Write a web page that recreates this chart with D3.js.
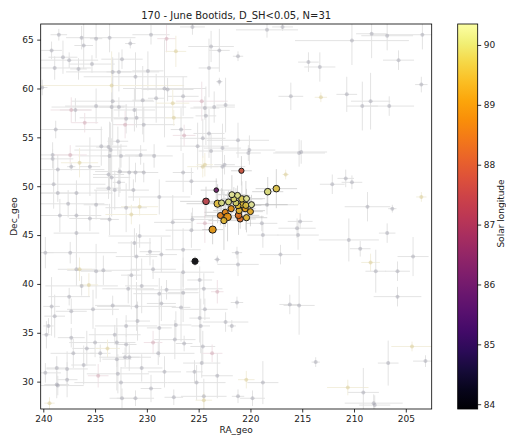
<!DOCTYPE html>
<html>
<head>
<meta charset="utf-8">
<script src="https://cdn.jsdelivr.net/npm/d3@7"></script>
<style>
    body { margin: 0; background: #fff; }
    text { font-family: "DejaVu Sans", sans-serif; fill: #222; }
</style>
</head>
<body>
<svg></svg>
<script>
// tick labels
const xTicks = [240, 235, 230, 225, 220, 215, 210, 205];
const yTicks = [30, 35, 40, 45, 50, 55, 60, 65];
const cbTicks = [84, 85, 86, 87, 88, 89, 90];

// June Bootids members (31)
const memRA = [220.87, 223.3, 224.29, 223.17, 222.79, 221.79, 221.25, 220.83, 220.38, 222.12,
    221.4, 220.77, 220.44, 219.9, 218.33, 217.5, 222.43, 221.86, 221.09, 220.51,
    222.21, 222.56, 221.15, 220.99, 220.38, 223.65, 225.35, 221.6, 222.9, 220.0, 221.2];
const memDec = [51.58, 49.6, 48.45, 48.21, 48.29, 49.13, 49.06, 48.7, 48.73, 48.39,
    48.29, 48.11, 48.04, 48.11, 49.44, 49.75, 47.33, 47.7, 47.5, 47.7,
    46.86, 46.48, 47.02, 46.65, 46.78, 45.56, 42.32, 48.7, 47.0, 47.4, 48.0];
const memSol = [87.8, 86.0, 87.4, 89.6, 90.2, 90.3, 90.2, 89.8, 90.3, 90.1,
    90.0, 89.5, 89.7, 90.3, 90.1, 89.7, 88.7, 88.9, 89.4, 89.1,
    88.9, 89.5, 88.4, 88.3, 89.5, 89.0, 83.9, 90.0, 88.6, 89.3, 89.6];
const memErrRA = [1.0, 1.5, 2.5, 3.0, 2.0, 1.5, 1.2, 2.0, 1.8, 2.5,
    1.0, 2.5, 1.5, 3.5, 1.5, 2.0, 2.0, 1.5, 2.5, 1.0,
    3.5, 1.5, 2.0, 1.5, 2.0, 1.0, 0.5, 1.2, 1.5, 1.2, 1.5];
const memErrDec = [1.5, 1.2, 1.5, 2.0, 1.5, 2.0, 1.0, 1.8, 1.0, 1.2,
    1.5, 1.0, 2.5, 1.0, 1.5, 2.0, 1.5, 1.2, 1.0, 1.2,
    2.5, 3.0, 2.0, 1.0, 1.5, 1.5, 0.5, 1.2, 1.0, 1.5, 1.0];
const memSize = [2.6, 2.3, 3.3, 3.6, 3.0, 3.0, 3.0, 3.2, 3.0, 3.0,
    3.0, 3.1, 3.1, 3.0, 3.3, 3.3, 3.0, 3.1, 3.1, 3.1,
    3.8, 3.1, 3.3, 3.1, 3.1, 3.6, 3.1, 3.0, 3.0, 3.0, 3.0];

// all other meteors (background)
const bgRA = [238.5, 236.3, 234.9, 233.6, 231.6, 229.6, 228.1, 225.6, 223.8, 223.0,
    239.2, 238.1, 237.5, 236.1, 227.2, 238.9, 236.6, 235.3, 233.3, 232.7,
    232.4, 231.1, 229.9, 224.0, 223.0, 240.1, 233.4, 228.3, 228.0, 226.5,
    233.3, 233.4, 232.7, 234.9, 236.9, 230.4, 229.1, 227.5, 231.2, 231.0,
    232.0, 230.3, 227.4, 224.7, 224.4, 224.3, 223.5, 222.4, 237.3, 236.0,
    232.1, 238.8, 226.7, 226.4, 224.6, 224.0, 234.4, 233.7, 233.5, 232.8,
    232.5, 233.6, 230.6, 229.3, 225.1, 223.8, 222.7, 239.1, 237.4, 236.5,
    235.5, 237.3, 238.6, 239.1, 233.7, 233.4, 232.7, 232.6, 231.7, 231.1,
    230.3, 226.5, 225.7, 224.6, 222.7, 239.0, 238.6, 236.8, 233.7, 233.1,
    231.3, 228.8, 237.6, 234.9, 232.0, 230.7, 238.4, 236.8, 235.5, 233.6,
    231.5, 227.5, 236.8, 230.7, 225.7, 239.8, 237.4, 231.2, 229.7, 231.0,
    228.6, 226.5, 223.2, 236.8, 236.5, 234.9, 234.2, 229.4, 231.5, 226.5,
    224.9, 236.3, 235.6, 231.8, 230.5, 228.1, 228.8, 226.5, 224.5, 223.2,
    237.5, 239.2, 237.3, 235.2, 233.3, 231.0, 228.6, 226.7, 224.4, 238.9,
    239.5, 239.7, 232.0, 230.9, 233.1, 228.8, 227.2, 224.9, 224.8, 222.4,
    237.3, 235.0, 232.9, 232.0, 229.4, 227.3, 226.4, 224.6, 235.8, 234.5,
    237.1, 233.8, 232.9, 232.1, 231.7, 228.9, 223.7, 224.7, 238.7, 237.7,
    236.1, 234.7, 232.8, 230.5, 228.3, 225.4, 223.2, 239.8, 238.7, 225.2,
    239.4, 238.6, 237.7, 232.5, 232.4, 231.1, 229.6, 227.4, 224.5, 224.5,
    221.2, 219.8, 218.8, 220.4, 210.6, 209.1, 208.1, 208.0,
    218.4, 216.9, 210.2, 208.3, 206.8, 203.4, 221.2, 214.4, 213.3, 205.7,
    203.5, 216.1, 213.2, 210.7, 208.4, 209.2, 206.6, 221.2, 220.1, 215.1,
    216.6, 212.1, 210.8, 210.2, 203.5, 218.4, 208.7, 206.3, 215.2, 218.8,
    215.4, 210.5, 206.8, 209.4, 217.1, 221.3, 221.2, 208.4, 207.9, 205.8,
    204.3, 205.8, 221.3, 216.2, 215.3, 221.8, 213.7, 204.4, 206.7, 203.1,
    224.4, 222.5, 220.2, 215.3, 224.4, 218.9, 215.5, 225.6];
const bgDec = [65.5, 65.2, 65.1, 65.2, 64.6, 65.5, 65.1, 66.3, 64.3, 63.9,
    63.9, 63.2, 62.9, 64.4, 63.8, 62.1, 62.0, 62.5, 61.7, 61.7,
    63.0, 61.2, 61.8, 62.1, 60.7, 60.1, 60.3, 60.0, 59.9, 59.2,
    58.7, 58.1, 58.1, 58.2, 57.8, 58.8, 59.0, 58.5, 57.8, 57.0,
    56.9, 56.3, 57.0, 58.7, 58.0, 57.2, 58.1, 58.3, 57.8, 56.5,
    56.3, 55.8, 55.8, 55.2, 54.9, 55.4, 54.1, 54.0, 53.7, 54.6,
    53.1, 53.1, 53.2, 53.1, 54.1, 53.6, 53.9, 53.2, 53.2, 52.4,
    52.0, 52.0, 51.7, 52.8, 51.2, 50.9, 50.4, 51.5, 51.4, 51.4,
    51.4, 51.4, 50.5, 52.0, 52.0, 50.2, 49.3, 49.3, 49.8, 49.6,
    49.6, 48.9, 48.2, 48.1, 47.8, 47.9, 47.0, 47.0, 46.7, 46.6,
    47.1, 46.3, 45.2, 44.9, 45.5, 43.2, 43.2, 44.2, 43.3, 42.8,
    43.0, 43.5, 42.5, 41.5, 41.5, 41.3, 41.4, 41.5, 40.9, 41.2,
    40.4, 39.8, 39.9, 39.5, 39.8, 39.4, 39.0, 39.1, 39.5, 39.2,
    38.7, 37.7, 37.2, 37.4, 37.8, 37.7, 38.0, 37.6, 37.4, 36.7,
    35.7, 34.8, 35.7, 36.2, 34.8, 35.5, 35.8, 36.5, 35.7, 36.1,
    34.5, 34.0, 34.0, 33.8, 34.0, 34.3, 33.9, 33.6, 33.4, 32.9,
    32.9, 33.4, 32.3, 32.5, 32.5, 32.9, 32.9, 31.9, 31.4, 31.3,
    31.7, 30.6, 30.8, 31.4, 31.0, 31.0, 30.6, 30.9, 29.7, 29.9,
    27.8, 29.6, 30.2, 29.9, 28.3, 28.3, 29.3, 28.4, 28.5, 28.1,
    28.5, 28.3, 29.9, 30.2, 29.4, 28.9, 27.8, 27.6,
    66.0, 66.3, 64.9, 65.6, 65.4, 65.5, 63.3, 62.7, 62.2, 62.9,
    60.4, 59.2, 59.1, 59.4, 58.7, 58.2, 58.2, 54.7, 53.7, 53.5,
    51.2, 50.2, 50.8, 50.4, 48.9, 48.1, 47.9, 47.7, 46.4, 45.0,
    45.0, 44.5, 45.2, 43.6, 43.0, 43.2, 42.0, 42.2, 41.3, 41.3,
    42.8, 38.7, 38.1, 37.9, 37.8, 35.7, 32.0, 33.6, 31.9, 32.1,
    52.2, 52.2, 53.4, 53.4, 46.2, 46.2, 45.7, 46.6];
const bgErrRA = [0.8, 1.5, 0.6, 2.5, 0.5, 1.8, 0.9, 1.2, 2.2, 1.0,
    1.0, 1.4, 2.8, 0.9, 1.0, 3.5, 0.8, 2.2, 4.5, 1.2,
    2.0, 5.0, 1.5, 1.0, 0.3, 0.5, 7.0, 4.0, 2.5, 1.5,
    4.0, 1.2, 6.5, 3.0, 1.5, 1.0, 0.8, 1.6, 2.0, 5.5,
    1.2, 3.0, 0.8, 2.5, 1.4, 1.0, 2.0, 0.9, 2.0, 1.3,
    0.9, 4.5, 1.0, 1.1, 2.2, 1.5, 2.5, 1.2, 3.5, 1.0,
    2.0, 3.0, 1.5, 1.8, 3.0, 1.2, 1.8, 2.0, 1.6, 1.8,
    1.0, 0.4, 4.5, 2.0, 1.5, 1.8, 0.6, 2.4, 1.2, 1.0,
    1.4, 1.0, 2.5, 1.5, 2.2, 5.0, 2.0, 3.5, 1.2, 2.0,
    1.5, 3.0, 3.5, 1.2, 2.0, 1.8, 4.0, 1.2, 2.0, 0.9,
    2.5, 1.8, 2.2, 3.0, 2.5, 0.8, 4.5, 1.6, 1.0, 2.0,
    1.5, 1.7, 0.3, 1.8, 1.2, 1.5, 3.5, 2.2, 1.0, 3.0,
    1.2, 3.5, 0.9, 2.5, 1.6, 3.0, 2.5, 1.5, 1.8, 0.6,
    2.0, 0.8, 1.5, 2.5, 1.7, 3.8, 1.4, 0.9, 2.2, 1.0,
    0.5, 0.4, 3.0, 1.2, 2.5, 1.2, 1.5, 1.0, 0.9, 2.2,
    1.3, 2.5, 1.8, 1.0, 0.9, 2.0, 0.8, 1.2, 1.4, 1.0,
    2.2, 1.2, 1.4, 2.5, 1.0, 3.5, 1.0, 1.8, 1.0, 2.0,
    1.2, 1.0, 3.0, 2.0, 1.6, 0.8, 1.5, 1.5, 1.2, 2.8,
    0.5, 2.5, 1.0, 4.5, 1.2, 1.8, 1.0, 0.9, 2.2, 0.8,
    0.6, 1.2, 1.5, 0.8, 2.0, 1.5, 2.8, 1.5,
    3.0, 1.0, 5.5, 1.5, 2.5, 5.0, 0.5, 1.0, 1.5, 1.5,
    0.6, 1.2, 0.6, 1.0, 1.9, 1.5, 2.4, 3.0, 2.5, 2.5,
    0.3, 1.2, 0.8, 1.0, 0.5, 3.0, 2.2, 0.4, 1.2, 1.5,
    2.0, 2.9, 0.8, 1.0, 2.0, 0.5, 2.0, 0.9, 1.0, 1.2,
    1.5, 2.3, 0.6, 1.0, 1.5, 0.4, 0.4, 2.0, 1.0, 1.2,
    0.8, 1.0, 1.2, 2.5, 0.8, 1.5, 1.8, 2.0];
const bgErrDec = [0.6, 1.2, 2.0, 1.5, 0.5, 1.0, 1.4, 0.8, 1.6, 2.2,
    0.9, 1.7, 0.8, 2.4, 1.6, 1.2, 1.1, 0.9, 1.3, 2.0,
    1.0, 2.5, 2.0, 3.0, 0.4, 0.8, 3.5, 5.0, 1.2, 2.0,
    4.5, 1.5, 1.0, 1.8, 1.2, 3.5, 2.5, 1.4, 2.2, 1.0,
    1.5, 1.8, 0.8, 2.0, 1.2, 3.0, 1.6, 2.8, 1.3, 1.0,
    1.4, 0.9, 2.2, 1.1, 2.0, 2.5, 2.0, 1.0, 2.8, 1.5,
    1.2, 3.5, 1.0, 1.2, 2.4, 1.8, 2.5, 1.3, 1.0, 1.5,
    3.0, 0.4, 1.5, 1.0, 2.0, 4.0, 1.5, 2.2, 1.8, 1.0,
    1.0, 2.0, 1.4, 1.1, 2.8, 2.5, 0.9, 1.3, 1.1, 2.0,
    1.1, 1.8, 1.4, 1.5, 2.5, 0.9, 1.7, 2.2, 1.3, 1.6,
    1.0, 2.8, 2.5, 1.2, 1.8, 1.6, 1.1, 1.5, 1.4, 2.4,
    1.8, 2.2, 0.4, 1.7, 1.2, 2.8, 1.5, 1.0, 3.5, 1.5,
    1.4, 1.0, 1.2, 1.5, 2.8, 1.0, 1.6, 3.0, 1.6, 1.2,
    0.9, 3.0, 1.3, 2.0, 1.0, 2.5, 1.8, 3.5, 1.1, 2.2,
    0.8, 1.4, 1.1, 2.0, 1.0, 3.0, 1.4, 2.5, 2.8, 1.0,
    1.0, 1.5, 2.5, 1.1, 1.2, 2.0, 0.8, 1.6, 1.8, 0.9,
    1.5, 0.9, 3.2, 1.0, 1.4, 1.2, 0.9, 1.5, 1.2, 1.8,
    2.0, 1.2, 2.0, 1.4, 1.6, 1.2, 2.3, 1.0, 1.4, 1.8,
    0.6, 1.0, 1.8, 1.6, 1.0, 0.8, 1.4, 0.8, 1.8, 0.8,
    0.7, 0.8, 2.2, 0.9, 0.8, 2.5, 0.9, 1.0,
    0.8, 0.4, 2.5, 2.5, 1.5, 1.5, 0.5, 1.0, 1.5, 1.0,
    0.8, 1.4, 0.5, 1.8, 2.9, 2.5, 1.0, 1.8, 1.5, 1.2,
    0.5, 1.0, 0.9, 0.7, 0.5, 1.0, 1.5, 0.4, 0.8, 1.3,
    1.5, 2.2, 1.0, 0.8, 1.0, 0.6, 1.2, 0.9, 2.2, 1.0,
    2.0, 1.0, 0.6, 1.0, 3.0, 0.6, 0.5, 0.5, 2.3, 0.6,
    1.2, 1.0, 0.8, 1.4, 2.0, 0.8, 1.0, 1.2];
// background meteors that show a faint tint (1-based positions in the lists above)
const bgPinkIdx = [7, 44, 49, 50, 51, 54, 69, 130, 155, 167, 172, 253];
const bgYellowIdx = [15, 27, 38, 43, 70, 84, 96, 101, 115, 123, 162, 181, 190, 194, 195,
    211, 219, 223, 236, 246, 249];

(() => {
    const W = 506, H = 437;
    const plot = { left: 40.7, right: 431.7, top: 24, bottom: 409 };
    const cb = { left: 457.7, right: 477.7 };

    const svg = d3.select('svg').attr('width', W).attr('height', H);

    const x = d3.scaleLinear().domain([240.25, 202.5]).range([plot.left, plot.right]);
    const y = d3.scaleLinear().domain([66.6, 27.2]).range([plot.top, plot.bottom]);
    const cScale = d3.scaleLinear().domain([83.92, 90.35]).range([plot.bottom, plot.top]);
    const color = v => d3.interpolateInferno((v - 83.92) / (90.35 - 83.92));

    svg.append('clipPath').attr('id', 'clip')
        .append('rect')
        .attr('x', plot.left).attr('y', plot.top)
        .attr('width', plot.right - plot.left).attr('height', plot.bottom - plot.top);

    const chart = svg.append('g').attr('clip-path', 'url(#clip)');

    const bg = bgRA.map((ra, i) => ({
        ra, dec: bgDec[i], era: bgErrRA[i], edec: bgErrDec[i],
        tint: bgPinkIdx.includes(i + 1) ? 'p' : bgYellowIdx.includes(i + 1) ? 'y' : 'g'
    }));
    const lineCol = { g: '#a8a8a8', p: '#d0a8b4', y: '#d8cc98' };
    const dotCol = { g: '#9898a6', p: '#c898a8', y: '#d2c080' };

    // background error bars
    const bgBars = chart.append('g').attr('stroke-width', 1).attr('opacity', 0.32);
    bg.forEach(d => {
        bgBars.append('line')
            .attr('x1', x(d.ra - d.era)).attr('x2', x(d.ra + d.era))
            .attr('y1', y(d.dec)).attr('y2', y(d.dec))
            .attr('stroke', lineCol[d.tint]);
        bgBars.append('line')
            .attr('x1', x(d.ra)).attr('x2', x(d.ra))
            .attr('y1', y(d.dec - d.edec)).attr('y2', y(d.dec + d.edec))
            .attr('stroke', lineCol[d.tint]);
    });

    chart.append('g').selectAll('circle')
        .data(bg)
        .enter().append('circle')
        .attr('cx', d => x(d.ra))
        .attr('cy', d => y(d.dec))
        .attr('r', 2)
        .attr('fill', d => dotCol[d.tint])
        .attr('opacity', 0.42);

    // member error bars
    const mem = memRA.map((ra, i) => ({
        ra, dec: memDec[i], sol: memSol[i], era: memErrRA[i], edec: memErrDec[i], r: memSize[i]
    }));
    const memBars = chart.append('g').attr('stroke', '#a0a0a0').attr('stroke-width', 1).attr('opacity', 0.4);
    mem.forEach(d => {
        memBars.append('line')
            .attr('x1', x(d.ra - d.era)).attr('x2', x(d.ra + d.era))
            .attr('y1', y(d.dec)).attr('y2', y(d.dec));
        memBars.append('line')
            .attr('x1', x(d.ra)).attr('x2', x(d.ra))
            .attr('y1', y(d.dec - d.edec)).attr('y2', y(d.dec + d.edec));
    });

    chart.append('g').selectAll('circle')
        .data(mem.slice().sort((a, b) => a.sol - b.sol))
        .enter().append('circle')
        .attr('cx', d => x(d.ra))
        .attr('cy', d => y(d.dec))
        .attr('r', d => d.r)
        .attr('fill', d => d3.color(color(d.sol)).darker(0.35))
        .attr('fill-opacity', 0.9)
        .attr('stroke', '#1a1a1a')
        .attr('stroke-width', 1);

    // frame
    svg.append('rect')
        .attr('x', plot.left).attr('y', plot.top)
        .attr('width', plot.right - plot.left).attr('height', plot.bottom - plot.top)
        .attr('fill', 'none').attr('stroke', '#000').attr('stroke-width', 0.8);

    // axes
    const xAxis = svg.append('g')
        .attr('transform', `translate(0, ${plot.bottom})`)
        .call(d3.axisBottom(x).tickValues(xTicks).tickSize(3.5).tickPadding(3.5).tickFormat(d3.format('d')));
    const yAxis = svg.append('g')
        .attr('transform', `translate(${plot.left}, 0)`)
        .call(d3.axisLeft(y).tickValues(yTicks).tickSize(3.5).tickPadding(3.5).tickFormat(d3.format('d')));
    [xAxis, yAxis].forEach(a => {
        a.select('.domain').remove();
        a.selectAll('line').attr('stroke', '#000').attr('stroke-width', 0.8);
        a.selectAll('text').attr('font-size', 9).attr('font-family', 'DejaVu Sans').attr('fill', '#222');
    });

    svg.append('text')
        .attr('x', (plot.left + plot.right) / 2).attr('y', 432.5)
        .attr('text-anchor', 'middle').attr('font-size', 9)
        .text('RA_geo');

    svg.append('text')
        .attr('transform', `translate(16.5, ${(plot.top + plot.bottom) / 2}) rotate(-90)`)
        .attr('text-anchor', 'middle').attr('font-size', 9)
        .text('Dec_geo');

    svg.append('text')
        .attr('x', (plot.left + plot.right) / 2).attr('y', 18.5)
        .attr('text-anchor', 'middle').attr('font-size', 10)
        .text('170 - June Bootids, D_SH<0.05, N=31');

    // colorbar
    const grad = svg.append('defs').append('linearGradient')
        .attr('id', 'cbgrad').attr('x1', 0).attr('y1', 1).attr('x2', 0).attr('y2', 0);
    d3.range(0, 1.0001, 0.05).forEach(t => {
        grad.append('stop').attr('offset', t).attr('stop-color', d3.interpolateInferno(t));
    });
    svg.append('rect')
        .attr('x', cb.left).attr('y', plot.top)
        .attr('width', cb.right - cb.left).attr('height', plot.bottom - plot.top)
        .attr('fill', 'url(#cbgrad)')
        .attr('stroke', '#000').attr('stroke-width', 0.8);

    const cAxis = svg.append('g')
        .attr('transform', `translate(${cb.right}, 0)`)
        .call(d3.axisRight(cScale).tickValues(cbTicks).tickSize(3.5).tickPadding(2.5).tickFormat(d3.format('d')));
    cAxis.select('.domain').remove();
    cAxis.selectAll('line').attr('stroke', '#000').attr('stroke-width', 0.8);
    cAxis.selectAll('text').attr('font-size', 9).attr('font-family', 'DejaVu Sans').attr('fill', '#222');

    svg.append('text')
        .attr('transform', `translate(503.5, ${(plot.top + plot.bottom) / 2 - 3}) rotate(-90)`)
        .attr('text-anchor', 'middle').attr('font-size', 9)
        .text('Solar longitude');
})();
</script>
</body>
</html>
